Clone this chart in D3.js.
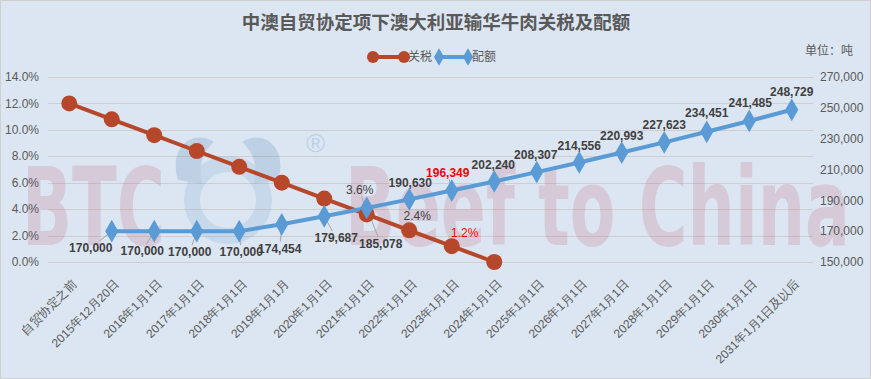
<!DOCTYPE html>
<html>
<head>
<meta charset="utf-8">
<script src="https://cdn.jsdelivr.net/npm/d3@7"></script>
<style>
  body { margin: 0; background: #fff; }
  svg { display: block; }
</style>
</head>
<body>
<script>
// categories + two series (tariff % on left axis, quota tonnes on right axis)
var categories = ["自贸协定之前", "2015年12月20日", "2016年1月1日", "2017年1月1日", "2018年1月1日",
  "2019年1月1月", "2020年1月1日", "2021年1月1日", "2022年1月1日", "2023年1月1日", "2024年1月1日",
  "2025年1月1日", "2026年1月1日", "2027年1月1日", "2028年1月1日", "2029年1月1日", "2030年1月1日",
  "2031年1月1日及以后"];

var tariff = [12.0, 10.8, 9.6, 8.4, 7.2, 6.0, 4.8, 3.6, 2.4, 1.2, 0.0,
  null, null, null, null, null, null, null];

var quota = [null, 170000, 170000, 170000, 170000, 174454, 179687, 185078, 190630, 196349,
  202240, 208307, 214556, 220993, 227623, 234451, 241485, 248729];

var leftTicks = [0, 2, 4, 6, 8, 10, 12, 14];
var rightTicks = [150000, 170000, 190000, 210000, 230000, 250000, 270000];

// which tariff points get a label
var tariffLabelIdx = [7, 8, 9];
var highlightQuota = 9, highlightTariff = 9;

// label placement (dx, dy from point, leader line or not)
var quotaLabelPos = {
  1: [-21, 17, 1], 2: [-12, 20, 1], 3: [-7, 21, 1], 4: [2, 21, 1], 5: [-2, 24, 1],
  6: [12, 22, 1], 7: [14, 36, 1], 8: [1, -17, 0], 9: [-4, -18, 1], 10: [-1, -17, 0],
  11: [-1, -17, 0], 12: [0, -17, 0], 13: [0, -17, 0], 14: [0, -18, 0], 15: [0, -19, 0],
  16: [1, -18, 0], 17: [0, -18, 0]
};
var tariffLabelPos = { 7: [-7, -25, 1], 8: [8, -14, 0], 9: [13, -13, 0] };

var width = 871, height = 379;
var plotL = 48, plotR = 813, plotT = 77, plotB = 262;

var svg = d3.select("body").append("svg")
    .attr("width", width)
    .attr("height", height)
    .style("font-family", "'Liberation Sans', Arial, sans-serif");

svg.append("rect")
    .attr("x", 0.5).attr("y", 0.5)
    .attr("width", width - 1).attr("height", height - 1)
    .attr("fill", "#dce6f2")
    .attr("stroke", "#d0d0d0");

var x = d3.scaleBand().domain(d3.range(categories.length)).range([plotL, plotR]);
var cx = function(i){ return x(i) + x.bandwidth() / 2; };
var yL = d3.scaleLinear().domain([0, 14]).range([plotB, plotT]);
var yR = d3.scaleLinear().domain([150000, 270000]).range([plotB, plotT]);

// gridlines
svg.append("g").selectAll("line")
  .data(leftTicks)
  .enter().append("line")
    .attr("x1", plotL).attr("x2", plotR)
    .attr("y1", function(d){ return Math.round(yL(d)) + 0.5; })
    .attr("y2", function(d){ return Math.round(yL(d)) + 0.5; })
    .attr("stroke", "#cfcdcd");

// watermark
var wm = svg.append("g").attr("opacity", 0.18);
wm.append("text")
    .attr("x", 22).attr("y", 245)
    .attr("textLength", 143).attr("lengthAdjust", "spacingAndGlyphs")
    .attr("font-family", "'DejaVu Sans Condensed', 'Liberation Sans Narrow', sans-serif")
    .attr("font-weight", "bold").attr("font-size", 108)
    .attr("fill", "#c0506a")
    .text("BTC");
wm.append("text")
    .attr("x", 345).attr("y", 245)
    .attr("textLength", 505).attr("lengthAdjust", "spacingAndGlyphs")
    .attr("font-family", "'DejaVu Sans Condensed', 'Liberation Sans Narrow', sans-serif")
    .attr("font-weight", "bold").attr("font-size", 108)
    .attr("fill", "#c0506a")
    .text("Beef to China");
wm.append("circle")
    .attr("cx", 228).attr("cy", 200).attr("r", 36)
    .attr("fill", "none").attr("stroke", "#6f9fd0").attr("stroke-width", 16);
wm.append("path")
    .attr("d", "M178,180 C168,148 192,128 214,142 C202,152 198,168 202,184 Z M278,180 C288,148 264,128 242,142 C254,152 258,168 254,184 Z")
    .attr("fill", "#3d6fa8");
wm.append("text")
    .attr("x", 306).attr("y", 152)
    .attr("font-size", 26).attr("fill", "#3d6fa8")
    .text("®");

// axes labels
svg.append("g").selectAll("text")
  .data(leftTicks)
  .enter().append("text")
    .attr("x", 39)
    .attr("y", function(d){ return yL(d); })
    .attr("dy", "0.35em")
    .attr("text-anchor", "end")
    .attr("font-size", 12)
    .attr("fill", "#595959")
    .text(function(d){ return d.toFixed(1) + "%"; });

svg.append("g").selectAll("text")
  .data(rightTicks)
  .enter().append("text")
    .attr("x", 820)
    .attr("y", function(d){ return yR(d); })
    .attr("dy", "0.35em")
    .attr("font-size", 12)
    .attr("fill", "#595959")
    .text(d3.format(","));

svg.append("g").selectAll("text")
  .data(categories)
  .enter().append("text")
    .attr("transform", function(d, i){ return "translate(" + (cx(i) + 8) + ",285) rotate(-45)"; })
    .attr("text-anchor", "end")
    .attr("font-size", 12)
    .attr("fill", "#595959")
    .text(function(d){ return d; });

// series lines
var red = "#b7472a", blue = "#5b9bd5";

var tData = tariff.map(function(v, i){ return {i: i, v: v}; }).filter(function(d){ return d.v !== null; });
var qData = quota.map(function(v, i){ return {i: i, v: v}; }).filter(function(d){ return d.v !== null; });

// leader lines first so markers cover them
function leader(px, py, lx, ly, w, h){
  // stop at label box edge
  var dx = px - lx, dy = py - ly;
  var t = Math.min(Math.abs((w / 2 + 1) / (dx || 1e-6)), Math.abs((h / 2 + 1) / (dy || 1e-6)));
  svg.append("line")
    .attr("x1", px).attr("y1", py)
    .attr("x2", lx + dx * t).attr("y2", ly + dy * t)
    .attr("stroke", "#a6a6a6").attr("stroke-width", 1);
}
qData.forEach(function(d){
  var p = quotaLabelPos[d.i];
  if (p && p[2]) leader(cx(d.i), yR(d.v), cx(d.i) + p[0], yR(d.v) + p[1], 42, 12);
});
tData.forEach(function(d){
  var p = tariffLabelPos[d.i];
  if (p && p[2]) leader(cx(d.i), yL(d.v), cx(d.i) + p[0], yL(d.v) + p[1], 27, 12);
});

svg.append("path")
    .datum(tData)
    .attr("fill", "none")
    .attr("stroke", red).attr("stroke-width", 4)
    .attr("d", d3.line().x(function(d){ return cx(d.i); }).y(function(d){ return yL(d.v); }));

svg.append("path")
    .datum(qData)
    .attr("fill", "none")
    .attr("stroke", blue).attr("stroke-width", 4)
    .attr("d", d3.line().x(function(d){ return cx(d.i); }).y(function(d){ return yR(d.v); }));

svg.append("g").selectAll("circle")
  .data(tData)
  .enter().append("circle")
    .attr("cx", function(d){ return cx(d.i); })
    .attr("cy", function(d){ return yL(d.v); })
    .attr("r", 8)
    .attr("fill", red);

var diamond = d3.symbol().type(d3.symbolDiamond).size(150);
svg.append("g").selectAll("path")
  .data(qData)
  .enter().append("path")
    .attr("transform", function(d){ return "translate(" + cx(d.i) + "," + yR(d.v) + ")"; })
    .attr("d", diamond)
    .attr("fill", blue);

// data labels
svg.append("g").selectAll("text")
  .data(qData)
  .enter().append("text")
    .attr("x", function(d){ return cx(d.i) + quotaLabelPos[d.i][0]; })
    .attr("y", function(d){ return yR(d.v) + quotaLabelPos[d.i][1]; })
    .attr("dy", "0.35em")
    .attr("text-anchor", "middle")
    .attr("font-size", 12)
    .attr("font-weight", "bold")
    .attr("fill", function(d){ return d.i === highlightQuota ? "#ff0000" : "#404040"; })
    .text(function(d){ return d3.format(",")(d.v); });

svg.append("g").selectAll("text")
  .data(tData.filter(function(d){ return tariffLabelIdx.indexOf(d.i) >= 0; }))
  .enter().append("text")
    .attr("x", function(d){ return cx(d.i) + tariffLabelPos[d.i][0]; })
    .attr("y", function(d){ return yL(d.v) + tariffLabelPos[d.i][1]; })
    .attr("dy", "0.35em")
    .attr("text-anchor", "middle")
    .attr("font-size", 12)
    .attr("fill", function(d){ return d.i === highlightTariff ? "#ff0000" : "#404040"; })
    .text(function(d){ return d.v.toFixed(1) + "%"; });

// title, legend, unit
svg.append("text")
    .attr("x", 436).attr("y", 29)
    .attr("text-anchor", "middle")
    .attr("font-family", "'Noto Sans CJK SC', sans-serif")
    .attr("font-weight", "bold")
    .attr("font-size", 18.5)
    .attr("fill", "#595959")
    .text("中澳自贸协定项下澳大利亚输华牛肉关税及配额");

svg.append("text")
    .attr("x", 853).attr("y", 55)
    .attr("text-anchor", "end")
    .attr("font-family", "'Noto Sans CJK SC', sans-serif")
    .attr("font-size", 12)
    .attr("fill", "#595959")
    .text("单位：吨");

var lg = svg.append("g").attr("font-family", "'Noto Sans CJK SC', sans-serif");
lg.append("line").attr("x1", 373).attr("x2", 404).attr("y1", 57).attr("y2", 57)
    .attr("stroke", red).attr("stroke-width", 4);
lg.selectAll("circle").data([373, 404]).enter().append("circle")
    .attr("cx", function(d){ return d; }).attr("cy", 57).attr("r", 6).attr("fill", red);
lg.append("text").attr("x", 408).attr("y", 61).attr("font-size", 12).attr("fill", "#595959").text("关税");
lg.append("line").attr("x1", 439).attr("x2", 468).attr("y1", 57).attr("y2", 57)
    .attr("stroke", blue).attr("stroke-width", 4);
lg.selectAll("path").data([439, 468]).enter().append("path")
    .attr("transform", function(d){ return "translate(" + d + ",57)"; })
    .attr("d", d3.symbol().type(d3.symbolDiamond).size(90))
    .attr("fill", blue);
lg.append("text").attr("x", 472).attr("y", 61).attr("font-size", 12).attr("fill", "#595959").text("配额");
</script>
</body>
</html>
